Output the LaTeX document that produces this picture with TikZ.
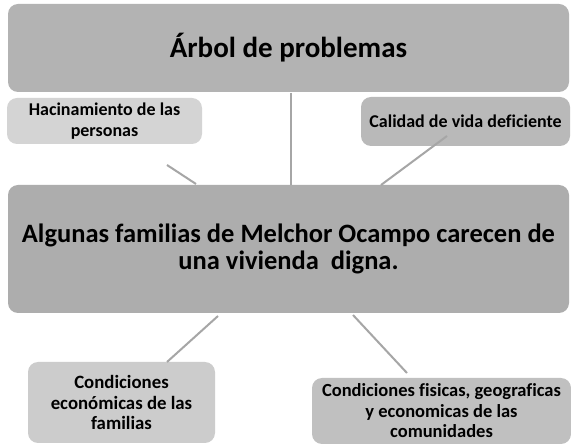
\documentclass[tikz,border=0pt]{standalone}
\usepackage{fontspec}
\setmainfont{Carlito}[Ligatures={NoCommon}]
\definecolor{titlegray}{HTML}{B3B3B3}
\definecolor{maingray}{HTML}{ADADAD}
\definecolor{hacgray}{HTML}{D4D4D4}
\definecolor{calgray}{HTML}{B9B9B9}
\definecolor{cegray}{HTML}{CCCCCC}
\definecolor{cfgray}{HTML}{C0C0C0}
\definecolor{linegray}{HTML}{A6A6A6}
\begin{document}
\begin{tikzpicture}[x=1pt,y=-1pt,
  box/.style={rounded corners=10pt, inner sep=0pt, align=center, font=\bfseries},
  conn/.style={draw=linegray, line width=2pt}]
\useasboundingbox (0,0) rectangle (571,446);
\fill[white] (0,0) rectangle (571,446);
\node[box, fill=titlegray, minimum width=561pt, minimum height=88pt, font=\bfseries\fontsize{29}{34}\selectfont] (title) at (288.5,48) {Árbol de problemas};
\node[box, fill=hacgray, minimum width=195pt, minimum height=46pt, font=\bfseries\fontsize{18}{21}\selectfont] (hac) at (104.5,121) {Hacinamiento de las\\personas};
\node[box, fill=calgray, minimum width=209pt, minimum height=49pt, font=\bfseries\fontsize{18}{21}\selectfont] (cal) at (465.5,121.5) {Calidad de vida deficiente};
\node[box, fill=maingray, minimum width=561pt, minimum height=128pt, font=\bfseries\fontsize{26.5}{27}\selectfont] (main) at (288.5,249) {Algunas familias de Melchor Ocampo carecen de\\una vivienda\ \ digna.};
\node[box, fill=cegray, minimum width=187pt, minimum height=81pt, font=\bfseries\fontsize{18.8}{20.5}\selectfont] (ce) at (121.5,402.5) {Condiciones\\económicas de las\\familias};
\node[box, fill=cfgray, minimum width=259pt, minimum height=66pt, font=\bfseries\fontsize{18.5}{20.5}\selectfont] (cf) at (441.5,411) {Condiciones fisicas, geograficas\\y economicas de las\\comunidades};
\coordinate (t1) at (291,93);
\coordinate (t2) at (291,185);
\coordinate (h1) at (167,165);
\coordinate (h2) at (196,184);
\coordinate (c1) at (447,136);
\coordinate (c2) at (381,185);
\coordinate (e1) at (218,316);
\coordinate (e2) at (167,362);
\coordinate (f1) at (353,315);
\coordinate (f2) at (407,373);
\draw[conn] (t1) -- (t2);
\draw[conn] (h1) -- (h2);
\draw[conn] (c1) -- (c2);
\draw[conn] (e1) -- (e2);
\draw[conn] (f1) -- (f2);
\end{tikzpicture}
\end{document}
